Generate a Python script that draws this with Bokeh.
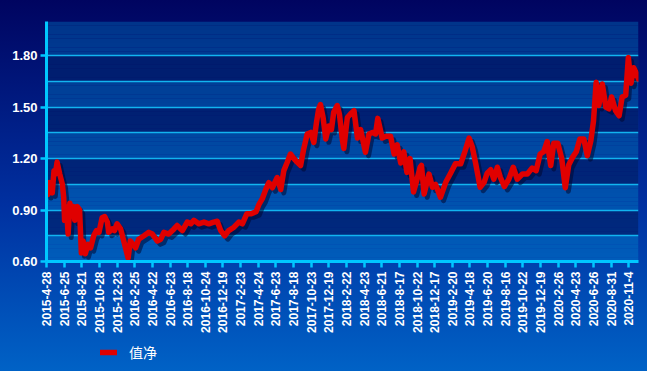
import math
from bokeh.plotting import figure
from bokeh.layouts import column
from bokeh.models import (Range1d, FixedTicker, NumeralTickFormatter, Legend, LegendItem,
                          BoxAnnotation, GlobalInlineStyleSheet, ColumnDataSource)
from bokeh.transform import dodge
from bokeh.embed import file_html
from bokeh.resources import INLINE

# ---- data (trading-day index, net value) ----
days = [0, 3, 7, 13, 17, 20, 24, 30, 36, 39, 41, 45, 49, 53, 57, 61, 64, 70, 75, 79,
        83, 88, 94, 100, 107, 113, 119, 126, 132, 138, 141, 149, 154, 160, 168, 175, 185, 190, 202, 209,
        221, 232, 240, 251, 259, 266, 277, 289, 296, 308, 319, 327, 334, 345, 357, 368, 379, 387, 395, 404,
        413, 425, 436, 444, 454, 463, 475, 482, 489, 497, 504, 512, 523, 531, 538, 546, 553, 561, 568, 576,
        583, 591, 599, 606, 612, 617, 621, 627, 633, 640, 646, 651, 659, 664, 671, 674, 682, 689, 697, 705,
        712, 723, 731, 739, 746, 751, 761, 769, 780, 788, 795, 803, 810, 817, 824, 832, 839, 847, 850, 856,
        867, 875, 882, 893, 905, 916, 927, 939, 949, 958, 965, 973, 983, 992, 999, 1007, 1014, 1022, 1029, 1038,
        1048, 1058, 1067, 1079, 1090, 1101, 1110, 1119, 1127, 1135, 1143, 1150, 1159, 1168, 1176, 1184, 1193, 1201, 1209, 1218,
        1226, 1234, 1240, 1246, 1252, 1260, 1268, 1275, 1281, 1290, 1298, 1305, 1313, 1319, 1325, 1331, 1337, 1342]
nav = [1.03, 0.99, 1.06, 1.00, 1.13, 1.11, 1.18, 1.11, 1.05, 0.975, 0.84, 0.92, 0.76, 0.94, 0.89, 0.92, 0.84, 0.92, 0.90, 0.65,
       0.72, 0.645, 0.70, 0.68, 0.75, 0.78, 0.77, 0.855, 0.862, 0.83, 0.77, 0.79, 0.78, 0.82, 0.79, 0.72, 0.62, 0.72, 0.68, 0.73,
       0.75, 0.77, 0.76, 0.72, 0.73, 0.77, 0.76, 0.79, 0.81, 0.78, 0.83, 0.82, 0.84, 0.82, 0.83, 0.82, 0.83, 0.835, 0.78, 0.75,
       0.78, 0.80, 0.83, 0.82, 0.878, 0.878, 0.89, 0.935, 0.965, 1.02, 1.06, 1.03, 1.09, 1.02, 1.13, 1.18, 1.227, 1.20, 1.18, 1.16,
       1.256, 1.344, 1.353, 1.295, 1.41, 1.49, 1.515, 1.44, 1.315, 1.39, 1.37, 1.47, 1.51, 1.46, 1.305, 1.26, 1.44, 1.46, 1.48, 1.32,
       1.37, 1.237, 1.344, 1.353, 1.344, 1.435, 1.32, 1.33, 1.33, 1.227, 1.28, 1.175, 1.24, 1.12, 1.20, 1.005, 1.07, 1.15, 1.16, 0.994,
       1.11, 1.033, 1.05, 0.975, 1.062, 1.115, 1.17, 1.17, 1.246, 1.32, 1.27, 1.17, 1.033, 1.062, 1.115, 1.135, 1.08, 1.15, 1.09, 1.037,
       1.08, 1.15, 1.08, 1.11, 1.11, 1.145, 1.13, 1.227, 1.24, 1.30, 1.16, 1.29, 1.29, 1.20, 1.03, 1.165, 1.21, 1.24, 1.315, 1.315,
       1.217, 1.305, 1.42, 1.645, 1.51, 1.635, 1.50, 1.49, 1.56, 1.48, 1.45, 1.56, 1.57, 1.79, 1.64, 1.73, 1.70, 1.665]

tick_labels = ["2015-4-28", "2015-6-25", "2015-8-21", "2015-10-28", "2015-12-23",
               "2016-2-25", "2016-4-22", "2016-6-23", "2016-8-18", "2016-10-24", "2016-12-19",
               "2017-2-23", "2017-4-24", "2017-6-23", "2017-8-18", "2017-10-23", "2017-12-19",
               "2018-2-22", "2018-4-23", "2018-6-21", "2018-8-17", "2018-10-22", "2018-12-17",
               "2019-2-20", "2019-4-18", "2019-6-20", "2019-8-16", "2019-10-22", "2019-12-19",
               "2020-2-26", "2020-4-23", "2020-6-26", "2020-8-31", "2020-11-4"]
tick_step = 40
y_ticks = [0.6, 0.9, 1.2, 1.5, 1.8]
grid_ticks = [0.6, 0.75, 0.9, 1.05, 1.2, 1.35, 1.5, 1.65, 1.8, 2.0]
series_name = "值净"

LINE_RED = "#e00000"

# ---- main chart ----
p = figure(width=647, height=336, output_backend="svg", toolbar_location=None,
           title=None,
           x_range=Range1d(days[0], days[-1]), y_range=Range1d(0.6, 2.0),
           min_border_left=46, min_border_right=9, min_border_top=21, min_border_bottom=75,
           border_fill_alpha=0, background_fill_alpha=0, outline_line_color=None)

p.stylesheets = [GlobalInlineStyleSheet(css=(
    "html{min-height:100%;background:linear-gradient(to bottom,#000460 0%,#0030a0 55%,#0062c6 100%);}"
    "body{background:transparent;}"))]


def hexmix(c1, c2, t):
    a = [int(c1[i:i + 2], 16) for i in (1, 3, 5)]
    b = [int(c2[i:i + 2], 16) for i in (1, 3, 5)]
    return "#%02x%02x%02x" % tuple(round(a[k] + (b[k] - a[k]) * t) for k in range(3))


# frame gradient (plot area background)
n_strips = 56
y0, y1 = 0.6, 2.0
for i in range(n_strips):
    lo = y0 + (y1 - y0) * i / n_strips
    hi = y0 + (y1 - y0) * (i + 1) / n_strips
    t = (i + 0.5) / n_strips
    col = hexmix("#005cba", "#00348a", t)
    p.add_layout(BoxAnnotation(bottom=lo, top=hi, fill_color=col, fill_alpha=1.0,
                               line_alpha=0, level="image"))

# grid & bands
p.xgrid.visible = False
p.ygrid.ticker = FixedTicker(ticks=grid_ticks)
p.ygrid.grid_line_color = "#12b4f0"
p.ygrid.grid_line_width = 1.6
p.ygrid.band_fill_color = "#000a58"
p.ygrid.band_fill_alpha = 0.6

# axes
p.xaxis.ticker = FixedTicker(ticks=[i * tick_step for i in range(len(tick_labels))])
p.xaxis.major_label_overrides = {i * tick_step: lab for i, lab in enumerate(tick_labels)}
p.xaxis.major_label_orientation = math.pi / 2
p.yaxis.ticker = FixedTicker(ticks=y_ticks)
p.yaxis.formatter = NumeralTickFormatter(format="0.00")

for ax in (p.xaxis[0], p.yaxis[0]):
    ax.axis_line_color = "#00c8ff"
    ax.axis_line_width = 3
    ax.major_tick_line_color = "#00c8ff"
    ax.major_tick_line_width = 2.5
    ax.major_tick_out = 6
    ax.major_tick_in = 0
    ax.minor_tick_line_color = None
    ax.major_label_text_color = "white"
    ax.major_label_text_font = "Liberation Sans"
    ax.major_label_text_font_style = "bold"

p.xaxis.major_label_text_font_size = "12px"
p.xaxis.major_label_standoff = 4
p.yaxis.major_label_text_font_size = "13px"
p.yaxis.major_label_standoff = 3

# line with drop shadow
src = ColumnDataSource(dict(day=days, nav=nav))
p.line(x=dodge("day", 7), y=dodge("nav", -0.02), source=src,
       line_color="#000830", line_alpha=0.55, line_width=5, line_join="round")
p.line(x="day", y="nav", source=src, line_color=LINE_RED, line_width=5.5,
       line_join="round", line_cap="round")

# ---- legend strip under the chart ----
lg = figure(width=647, height=35, output_backend="svg", toolbar_location=None,
            title=None, x_range=Range1d(0, 1), y_range=Range1d(0, 1),
            x_axis_type=None, y_axis_type=None,
            min_border_left=0, min_border_right=0, min_border_top=0, min_border_bottom=0,
            border_fill_alpha=0, background_fill_alpha=0, outline_line_color=None)
lg.xgrid.visible = False
lg.ygrid.visible = False
# key renderer kept outside the visible range, only used to draw the legend swatch
key = lg.line(x=[-5, -4], y=[-5, -5], line_color=LINE_RED, line_width=5.5, line_cap="round")
legend = Legend(items=[LegendItem(label=series_name, renderers=[key])],
                location=(54, 9), orientation="horizontal",
                background_fill_alpha=0, border_line_alpha=0,
                padding=0, margin=0, glyph_width=17, glyph_height=16,
                label_standoff=12, label_height=18,
                label_text_color="white", label_text_font="Noto Sans CJK SC",
                label_text_font_size="14px")
lg.add_layout(legend)

layout = column(p, lg, spacing=0)
open("out.html", "w").write(file_html(layout, INLINE))
